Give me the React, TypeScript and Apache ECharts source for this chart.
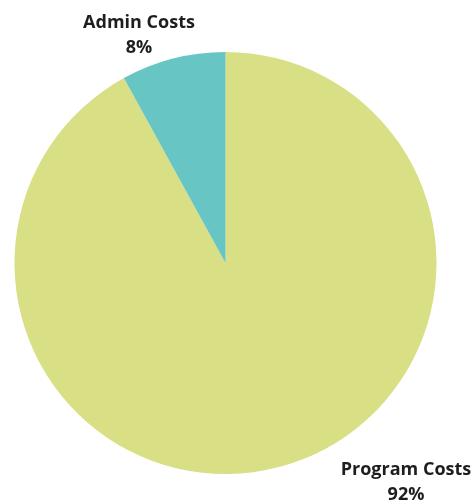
import React, { useEffect, useRef } from "react";
import * as echarts from "echarts";

const categories = ["Program Costs", "Admin Costs"];
const values = [92, 8];
const colors = ["#d8df85", "#67c6c3"];
const labelSpots = [
  { x: 406, y: 480 },
  { x: 139, y: 33 },
];

export default function App() {
  const ref = useRef<HTMLDivElement>(null);
  useEffect(() => {
    if (!ref.current) return;
    const chart = echarts.init(ref.current, null, { renderer: "svg" });
    chart.setOption({
      animation: false,
      series: [
        {
          type: "pie",
          center: [225.5, 263],
          radius: 211,
          startAngle: 90,
          clockwise: true,
          data: categories.map((c, i) => ({
            name: c,
            value: values[i],
            itemStyle: { color: colors[i] },
          })),
          label: {
            show: true,
            position: "outside",
            formatter: "{b}\n{d}%",
            fontFamily: "Open Sans",
            fontWeight: "bold",
            fontSize: 18,
            lineHeight: 25,
            color: "#1e1e1e",
            align: "center",
          },
          labelLine: { show: false },
          labelLayout: (p: any) => ({
            x: labelSpots[p.dataIndex].x,
            y: labelSpots[p.dataIndex].y,
            align: "center",
            verticalAlign: "middle",
          }),
          emphasis: { disabled: true },
        },
      ],
    });
    return () => chart.dispose();
  }, []);
  return (
    <div
      ref={ref}
      style={{ position: "fixed", left: 0, top: 0, width: 476, height: 500 }}
    />
  );
}
